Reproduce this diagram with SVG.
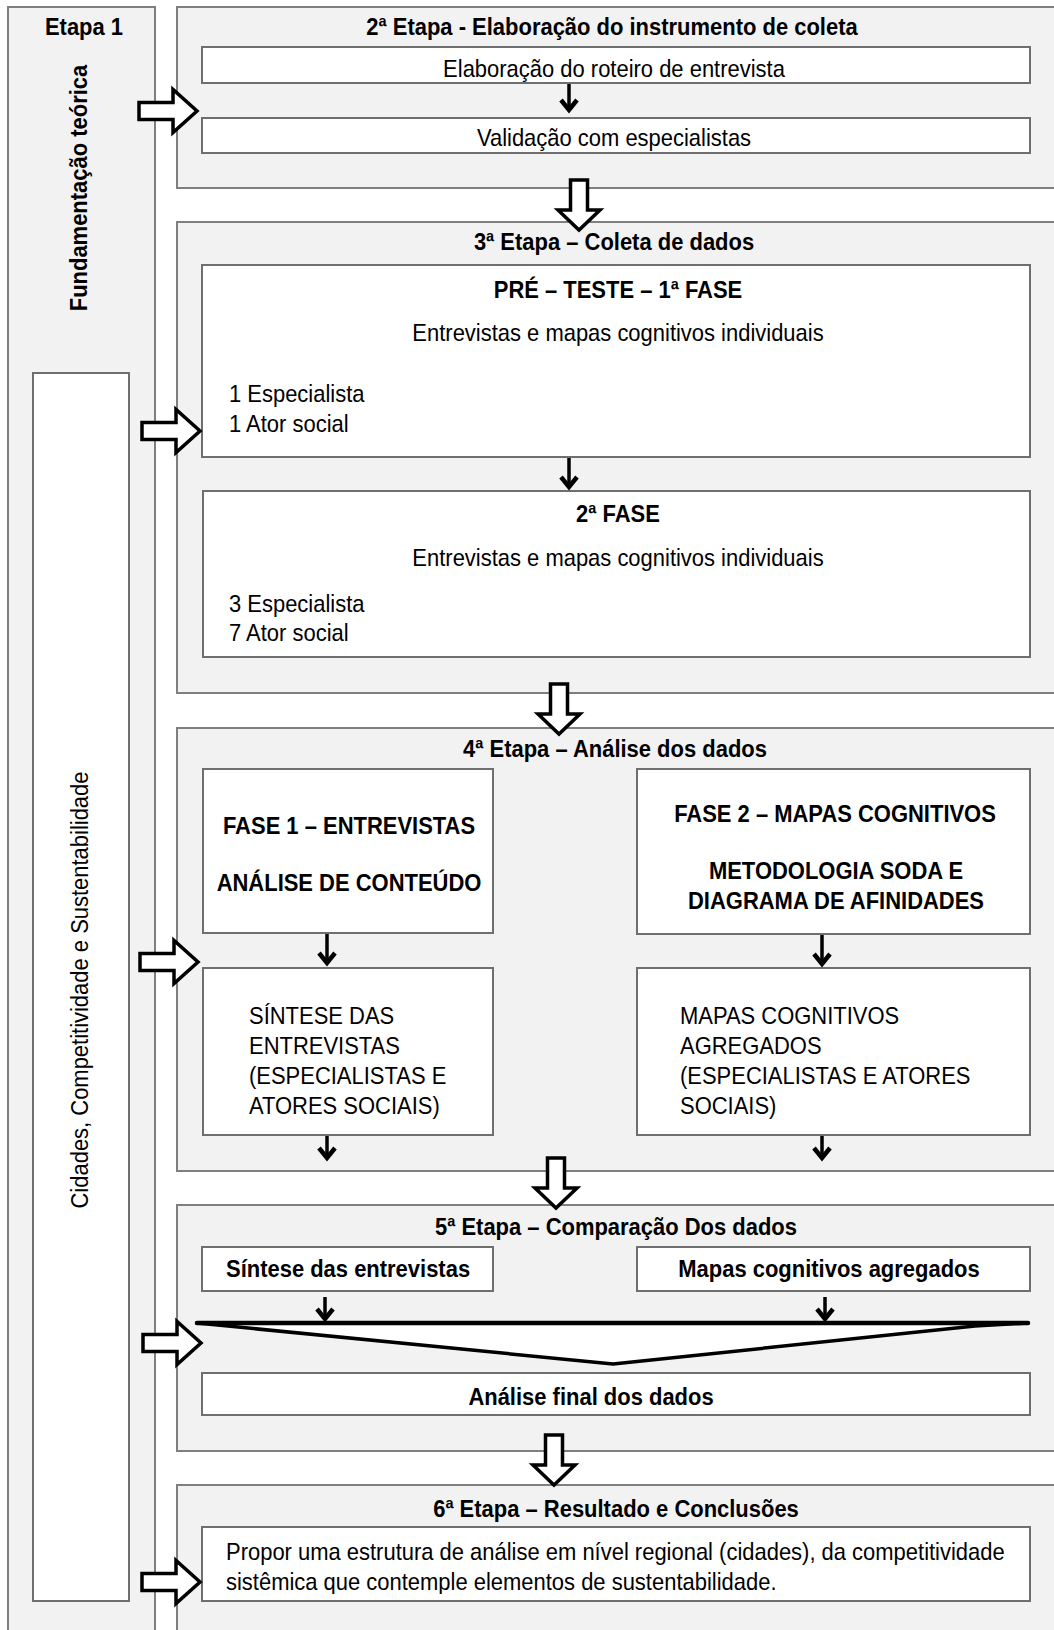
<svg xmlns="http://www.w3.org/2000/svg" width="1054" height="1630" viewBox="0 0 1054 1630">
<style>
  .grp{fill:#f2f2f2;stroke:#7f7f7f;stroke-width:2}
  .box{fill:#ffffff;stroke:#6f6f6f;stroke-width:2}
  text{font-family:"Liberation Sans",Arial,Helvetica,sans-serif;font-size:24px;fill:#000}
  .b{font-weight:bold}
  .c{text-anchor:middle}
  .hol{fill:#ffffff;stroke:#000;stroke-width:3.5;stroke-linejoin:miter}
  .sa{fill:none;stroke:#000;stroke-width:3.5}
  .sh{fill:none;stroke:#000;stroke-width:4.5;stroke-linejoin:miter}
  .fun{fill:#ffffff;stroke:#000;stroke-width:3.5;stroke-linejoin:round}
</style>
<defs>
  <!-- hollow block arrow pointing right, tip at origin -->
  <path id="ra" d="M-58,-8.5 H-24 V-21.5 L0,0 L-24,21.5 V8.5 H-58 Z"/>
  <!-- hollow block arrow pointing down, tip at origin -->
  <path id="da" d="M-8.5,-50 H8.5 V-20 H21 L0,0 L-21,-20 H-8.5 Z"/>
  <clipPath id="clipMapas"><rect x="637" y="1247" width="393" height="35"/></clipPath>
  <clipPath id="clipProp"><rect x="202" y="1527" width="828" height="67"/></clipPath>
</defs>

<rect x="0" y="0" width="1054" height="1630" fill="#ffffff"/>

<!-- Stage 1: theoretical foundation column -->
<g id="etapa1">
  <rect class="grp" x="8" y="7" width="147" height="1700"/>
  <text class="b c" transform="matrix(.915 0 0 1 84 35)">Etapa 1</text>
  <text class="b c" transform="translate(87,188) rotate(-90) scale(.915,1)">Fundamentação teórica</text>
</g>
<g id="cidades">
  <rect class="box" x="33" y="373" width="96" height="1228"/>
  <text class="c" transform="translate(88,990) rotate(-90) scale(.915,1)">Cidades, Competitividade e Sustentabilidade</text>
</g>

<!-- Stage 2 -->
<g id="etapa2">
  <rect class="grp" x="177" y="7" width="900" height="181"/>
  <text class="b c" transform="matrix(.915 0 0 1 612 35)">2ª Etapa - Elaboração do instrumento de coleta</text>
</g>
<g id="roteiro">
  <rect class="box" x="202" y="47" width="828" height="36"/>
  <text class="c" transform="matrix(.915 0 0 1 614 77)">Elaboração do roteiro de entrevista</text>
</g>
<g id="validacao">
  <rect class="box" x="202" y="118" width="828" height="35"/>
  <text class="c" transform="matrix(.915 0 0 1 614 146)">Validação com especialistas</text>
</g>

<!-- Stage 3 -->
<g id="etapa3">
  <rect class="grp" x="177" y="222" width="900" height="471"/>
  <text class="b c" transform="matrix(.915 0 0 1 614 250)">3ª Etapa – Coleta de dados</text>
</g>
<g id="preteste">
  <rect class="box" x="202" y="265" width="828" height="192"/>
  <text class="b c" transform="matrix(.915 0 0 1 618 298)">PRÉ – TESTE – 1ª FASE</text>
  <text class="c" transform="matrix(.915 0 0 1 618 341)">Entrevistas e mapas cognitivos individuais</text>
  <text transform="matrix(.915 0 0 1 229 402)">1 Especialista</text>
  <text transform="matrix(.915 0 0 1 229 432)">1 Ator social</text>
</g>
<g id="fase2">
  <rect class="box" x="203" y="491" width="827" height="166"/>
  <text class="b c" transform="matrix(.915 0 0 1 618 522)">2ª FASE</text>
  <text class="c" transform="matrix(.915 0 0 1 618 566)">Entrevistas e mapas cognitivos individuais</text>
  <text transform="matrix(.915 0 0 1 229 612)">3 Especialista</text>
  <text transform="matrix(.915 0 0 1 229 641)">7 Ator social</text>
</g>

<!-- Stage 4 -->
<g id="etapa4">
  <rect class="grp" x="177" y="728" width="900" height="443"/>
  <text class="b c" transform="matrix(.915 0 0 1 615 757)">4ª Etapa – Análise dos dados</text>
</g>
<g id="fase1-entrevistas">
  <rect class="box" x="203" y="769" width="290" height="164"/>
  <text class="b c" transform="matrix(.915 0 0 1 349 834)">FASE 1 – ENTREVISTAS</text>
  <text class="b c" transform="matrix(.915 0 0 1 349 891)">ANÁLISE DE CONTEÚDO</text>
</g>
<g id="fase2-mapas">
  <rect class="box" x="637" y="769" width="393" height="165"/>
  <text class="b c" transform="matrix(.915 0 0 1 835 822)">FASE 2 – MAPAS COGNITIVOS</text>
  <text class="b c" transform="matrix(.915 0 0 1 836 879)">METODOLOGIA SODA E</text>
  <text class="b c" transform="matrix(.915 0 0 1 836 909)">DIAGRAMA DE AFINIDADES</text>
</g>
<g id="sintese">
  <rect class="box" x="203" y="968" width="290" height="167"/>
  <text transform="matrix(.915 0 0 1 249 1024)">SÍNTESE DAS</text>
  <text transform="matrix(.915 0 0 1 249 1054)">ENTREVISTAS</text>
  <text transform="matrix(.915 0 0 1 249 1084)">(ESPECIALISTAS E</text>
  <text transform="matrix(.915 0 0 1 249 1114)">ATORES SOCIAIS)</text>
</g>
<g id="mapas-agregados">
  <rect class="box" x="637" y="968" width="393" height="167"/>
  <text transform="matrix(.915 0 0 1 680 1024)">MAPAS COGNITIVOS</text>
  <text transform="matrix(.915 0 0 1 680 1054)">AGREGADOS</text>
  <text transform="matrix(.915 0 0 1 680 1084)">(ESPECIALISTAS E ATORES</text>
  <text transform="matrix(.915 0 0 1 680 1114)">SOCIAIS)</text>
</g>

<!-- Stage 5 -->
<g id="etapa5">
  <rect class="grp" x="177" y="1205" width="900" height="246"/>
  <text class="b c" transform="matrix(.915 0 0 1 616 1235)">5ª Etapa – Comparação Dos dados</text>
</g>
<g id="sintese-entrevistas">
  <rect class="box" x="202" y="1247" width="291" height="44"/>
  <text class="b" transform="matrix(.915 0 0 1 226 1277)">Síntese das entrevistas</text>
</g>
<g id="mapas-cognitivos">
  <rect class="box" x="637" y="1247" width="393" height="44"/>
  <g clip-path="url(#clipMapas)">
    <text class="b c" transform="matrix(.915 0 0 1 829 1277)">Mapas cognitivos agregados</text>
  </g>
</g>
<g id="funil">
  <path class="fun" d="M197,1323 L1028,1323 L975,1326 L613,1364 Z"/>
  <path d="M197,1323 H1028" fill="none" stroke="#000" stroke-width="4.5" stroke-linecap="round"/>
</g>
<g id="analise-final">
  <rect class="box" x="202" y="1373" width="828" height="42"/>
  <text class="b c" transform="matrix(.915 0 0 1 591 1405)">Análise final dos dados</text>
</g>

<!-- Stage 6 -->
<g id="etapa6">
  <rect class="grp" x="177" y="1485" width="900" height="200"/>
  <text class="b c" transform="matrix(.915 0 0 1 616 1517)">6ª Etapa – Resultado e Conclusões</text>
</g>
<g id="proposta">
  <rect class="box" x="202" y="1527" width="828" height="74"/>
  <g clip-path="url(#clipProp)">
    <text transform="matrix(.915 0 0 1 226 1560)">Propor uma estrutura de análise em nível regional (cidades), da competitividade</text>
    <text transform="matrix(.915 0 0 1 226 1590)">sistêmica que contemple elementos de sustentabilidade.</text>
  </g>
</g>

<!-- Connectors -->
<g id="connectors">
  <!-- hollow arrows from the theoretical column into each stage -->
  <use href="#ra" class="hol" x="197" y="111"/>
  <use href="#ra" class="hol" x="200" y="431"/>
  <use href="#ra" class="hol" x="198" y="962"/>
  <use href="#ra" class="hol" x="201" y="1343"/>
  <use href="#ra" class="hol" x="200" y="1582"/>
  <!-- hollow arrows between stages -->
  <use href="#da" class="hol" x="579" y="230"/>
  <use href="#da" class="hol" x="559" y="734"/>
  <use href="#da" class="hol" x="556" y="1208"/>
  <use href="#da" class="hol" x="554" y="1485"/>
  <!-- small flow arrows inside stages -->
  <g id="small-arrows">
    <path class="sa" d="M569,84 V110"/><path class="sh" d="M561,100 L569,110 L577,100"/>
    <path class="sa" d="M569,458 V487"/><path class="sh" d="M561,477 L569,487 L577,477"/>
    <path class="sa" d="M327,934 V963"/><path class="sh" d="M319,953 L327,963 L335,953"/>
    <path class="sa" d="M822,935 V964"/><path class="sh" d="M814,954 L822,964 L830,954"/>
    <path class="sa" d="M327,1136 V1158"/><path class="sh" d="M319,1148 L327,1158 L335,1148"/>
    <path class="sa" d="M822,1136 V1158"/><path class="sh" d="M814,1148 L822,1158 L830,1148"/>
    <path class="sa" d="M325,1297 V1319"/><path class="sh" d="M317,1309 L325,1319 L333,1309"/>
    <path class="sa" d="M825,1297 V1319"/><path class="sh" d="M817,1309 L825,1319 L833,1309"/>
  </g>
</g>
</svg>
